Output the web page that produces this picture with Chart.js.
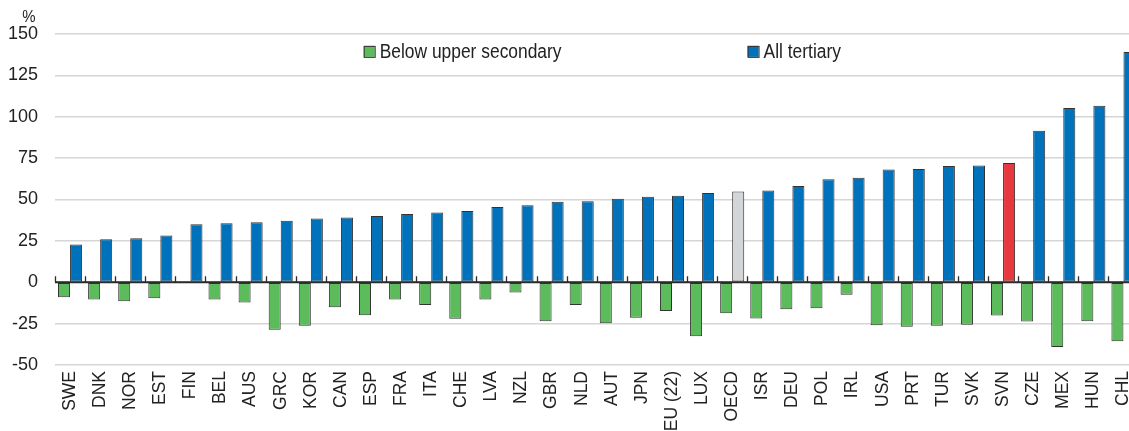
<!DOCTYPE html>
<html><head><meta charset="utf-8">
<script src="https://cdn.jsdelivr.net/npm/chart.js@4"></script>
<style>html,body{margin:0;padding:0;overflow:hidden;background:#fff;width:1129px;height:431px}
canvas{display:block}</style>
</head><body><canvas id="c" width="1129" height="431" style="width:1129px;height:431px"></canvas>
<script>
const categories = ["SWE","DNK","NOR","EST","FIN","BEL","AUS","GRC","KOR","CAN","ESP","FRA","ITA","CHE","LVA","NZL","GBR","NLD","AUT","JPN","EU (22)","LUX","OECD","ISR","DEU","POL","IRL","USA","PRT","TUR","SVK","SVN","CZE","MEX","HUN","CHL"];
const belowUpperSecondary = [-9.0,-10.4,-11.5,-9.7,-0.3,-10.4,-12.3,-28.7,-26.3,-15.1,-19.9,-10.4,-13.7,-22.1,-10.4,-6.2,-23.5,-13.7,-24.8,-21.5,-17.3,-32.6,-18.7,-21.9,-16.3,-15.7,-7.6,-26.0,-26.9,-26.3,-25.7,-20.1,-23.7,-39.1,-23.5,-35.6];
const allTertiary = [22.8,26.0,26.6,28.2,35.0,35.6,36.2,37.1,38.5,39.1,40.1,41.3,42.1,43.1,45.5,46.5,48.7,48.9,50.5,51.7,52.2,54.0,54.8,55.4,58.2,62.2,63.2,68.1,68.5,70.3,70.5,72.1,91.6,105.3,106.7,139.1];
const yTicks = [-50,-25,0,25,50,75,100,125,150];
const seriesNames = ["Below upper secondary","All tertiary"];

const GREEN="#5cbb5a", BLUE="#0072bb", GREY="#d4d5d7", RED="#e8383f", EDGE="#333333";
const FONT="'Liberation Sans',Arial,sans-serif";
const tertiaryColors = categories.map(c => c==="OECD"?GREY:(c==="SVN"?RED:BLUE));
const OVERHANG = 9.5; // plot area runs past the right edge of the picture

const extendArea = {
  id:'extendArea',
  afterLayout(chart){
    const x=chart.scales.x, R=chart.width+OVERHANG;
    x.right=R; x.width=R-x.left; x.configure();
    chart.chartArea.right=R; chart.chartArea.width=R-chart.chartArea.left;
  }
};

const extras = {
  id:'extras',
  afterDatasetsDraw(chart){
    const ctx=chart.ctx, x=chart.scales.x, y=chart.scales.y, a=chart.chartArea;
    const y0=y.getPixelForValue(0);
    ctx.save();
    ctx.strokeStyle="#2b2b2b"; ctx.lineWidth=2;
    ctx.beginPath(); ctx.moveTo(a.left,y0); ctx.lineTo(a.right,y0); ctx.stroke();
    ctx.lineWidth=1.3;
    const step = x.getPixelForValue(1)-x.getPixelForValue(0);
    for(let i=0;i<categories.length;i++){
      const px=Math.round(x.getPixelForValue(i)-step/2)+0.5;
      ctx.beginPath(); ctx.moveTo(px,y0); ctx.lineTo(px,y0-6); ctx.stroke();
    }
    ctx.fillStyle="#222"; ctx.font="17px "+FONT; ctx.textAlign="center"; ctx.textBaseline="alphabetic";
    ctx.save(); ctx.translate(29,22); ctx.scale(0.88,1); ctx.fillText("%",0,0); ctx.restore();
    const items=[{t:seriesNames[0],c:GREEN,fx:0.2849},{t:seriesNames[1],c:BLUE,fx:0.6392}];
    ctx.font="20px "+FONT; ctx.textAlign="left"; ctx.textBaseline="middle";
    const ly = y.getPixelForValue(139.5);
    items.forEach(it=>{
      const lx = a.left + (a.right-a.left)*it.fx;
      ctx.fillStyle=it.c; ctx.fillRect(lx,ly-5.5,11,11);
      ctx.strokeStyle=EDGE; ctx.lineWidth=1; ctx.strokeRect(lx+0.5,ly-5.5+0.5,11,11);
      ctx.fillStyle="#222";
      ctx.save(); ctx.translate(lx+16, ly+1); ctx.scale(0.87,1); ctx.fillText(it.t,0,0); ctx.restore();
    });
    ctx.restore();
  }
};

new Chart(document.getElementById('c'), {
  type:'bar',
  data:{labels:categories, datasets:[
    {label:seriesNames[0], data:belowUpperSecondary, backgroundColor:GREEN, borderColor:EDGE, borderWidth:1, borderSkipped:false},
    {label:seriesNames[1], data:allTertiary, backgroundColor:tertiaryColors, borderColor:EDGE, borderWidth:1, borderSkipped:false}
  ]},
  options:{
    responsive:false, maintainAspectRatio:false, animation:false, devicePixelRatio:1,
    layout:{padding:{top:34,right:0,bottom:0,left:0}},
    datasets:{bar:{barPercentage:1, categoryPercentage:0.8}},
    plugins:{legend:{display:false}, tooltip:{enabled:false}},
    scales:{
      x:{
        grid:{display:false, drawTicks:false},
        border:{display:false},
        ticks:{autoSkip:false, maxRotation:90, minRotation:90, padding:6, color:"#222", font:{family:FONT, size:17.5}},
        afterFit(s){ s.height=66; }
      },
      y:{
        min:-50, max:150,
        afterBuildTicks(s){ s.ticks = yTicks.map(v=>({value:v})); },
        grid:{color:"#d6d6d6", lineWidth:1.6, drawTicks:false},
        border:{display:false},
        ticks:{padding:17, color:"#222", font:{family:FONT, size:18}},
        afterFit(s){ s.width=55; }
      }
    }
  },
  plugins:[extendArea, extras]
});
</script></body></html>
